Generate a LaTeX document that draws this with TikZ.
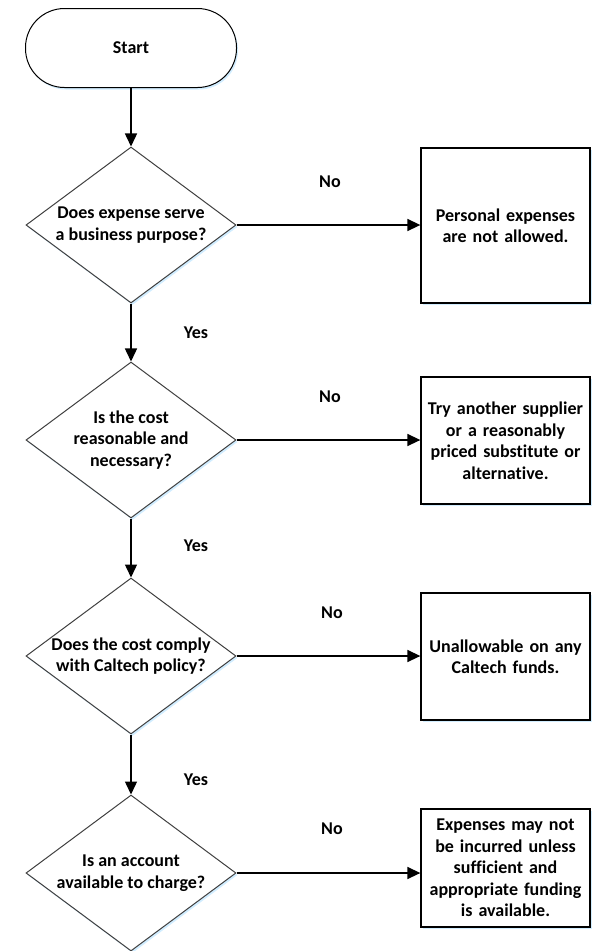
\documentclass[tikz,border=0pt]{standalone}
\usepackage{fontspec}
\setmainfont[Ligatures=NoCommon]{Carlito}
\usetikzlibrary{shapes.geometric,arrows.meta,shadows}

\begin{document}
\begin{tikzpicture}[x=1pt,y=-1pt,
	>={Triangle[length=13pt,width=12pt]},
	font=\bfseries\fontsize{18}{21.5}\selectfont,
	every node/.style={align=center},
	glow/.style={drop shadow={fill=blue!40!cyan,opacity=.18,shadow xshift=1.5pt,shadow yshift=-2pt}},
	terminal/.style={draw,line width=1pt,rounded corners=39pt,minimum width=211pt,minimum height=79pt,fill=white,glow},
	decision/.style={diamond,draw=black!75,line width=1pt,inner sep=0pt,minimum width=210pt,minimum height=156pt,fill=white,glow},
	outcome/.style={draw,line width=1.3pt,minimum width=169pt,text width=165pt,inner sep=0pt,fill=white,glow},
	flow/.style={->,line width=1.5pt}]
	
	\useasboundingbox (0,0) rectangle (598,951);
	
	\node[terminal] (start) at (131,48) {Start};
	
	\node[decision,label={center:Does expense serve\\a business purpose?}] (q1) at (131,225) {};
	\node[decision,label={center:Is the cost\\reasonable and\\necessary?}] (q2) at (131,440) {};
	\node[decision,label={center:Does the cost comply\\with Caltech policy?}] (q3) at (131,656) {};
	\node[decision,label={center:Is an account\\available to charge?}] (q4) at (131,873) {};
	
	\node[outcome,minimum height=155pt] (r1) at (505.5,225.5) {Personal expenses\\are not allowed.};
	\node[outcome,minimum height=127pt] (r2) at (505.5,440.5) {Try another supplier\\or a reasonably\\priced substitute or\\alternative.};
	\node[outcome,minimum height=127pt] (r3) at (505.5,656.5) {Unallowable on any\\Caltech funds.};
	\node[outcome,minimum height=118pt] (r4) at (505.5,868) {Expenses may not\\be incurred unless\\sufficient and\\appropriate funding\\is available.};
	
	% down the main line
	\draw[flow] (start) -- (q1);
	\draw[flow] (q1) -- (q2);
	\draw[flow] (q2) -- (q3);
	\draw[flow] (q3) -- (q4);
	
	% the no branches
	\draw[flow] (q1.east) -- (q1.east -| r1.west);
	\draw[flow] (q2.east) -- (q2.east -| r2.west);
	\draw[flow] (q3.east) -- (q3.east -| r3.west);
	\draw[flow] (q4.east) -- (q4.east -| r4.west);
	
	\node (yes1) at (196,333) {Yes};
	\node (yes2) at (196,546) {Yes};
	\node (yes3) at (196,780) {Yes};
	
	\node (no1) at (330,182) {No};
	\node (no2) at (330,397) {No};
	\node (no3) at (332,613) {No};
	\node (no4) at (332,829) {No};
	
\end{tikzpicture}
\end{document}
